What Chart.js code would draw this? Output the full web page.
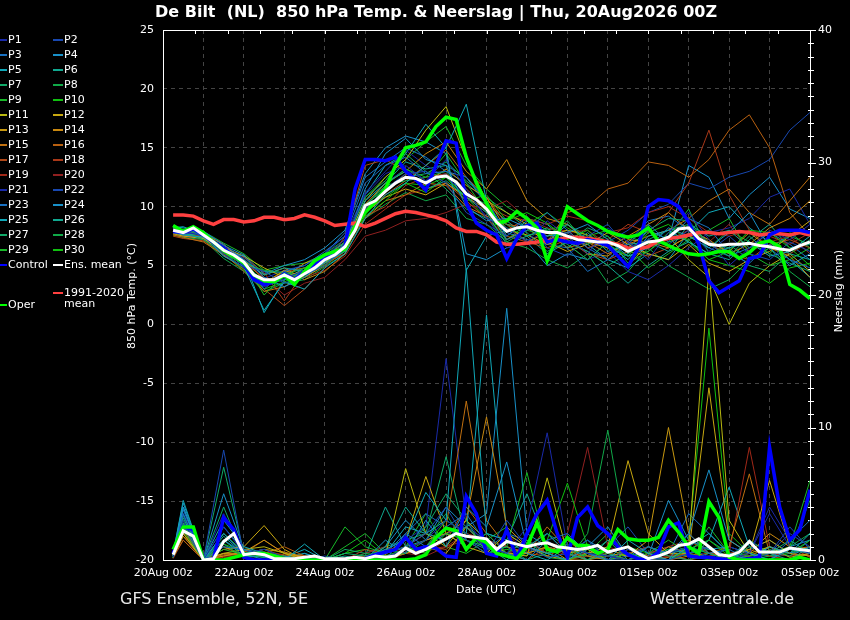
<!DOCTYPE html>
<html lang="nl">
<head>
<meta charset="UTF-8">
<title>De Bilt | 850 hPa Temp. &amp; Neerslag</title>
<script src="https://cdn.jsdelivr.net/npm/chart.js"></script>
<style>
  body { margin: 0; background: #000; overflow: hidden; }
  #wrap { position: relative; width: 850px; height: 620px; background: #000; color: #fff; font-family: "DejaVu Sans", sans-serif; }
  #grafiek { position: absolute; left: 0; top: 0; }
  .txt { position: absolute; white-space: nowrap; line-height: 1; color: #fff; font-weight: normal; }
  .mid { transform: translate(-50%, -50%); }
  .leg { position: absolute; font-size: 11px; line-height: 1; white-space: nowrap; }
  .leg i { position: absolute; height: 2px; }
</style>
</head>
<body>
<div id="wrap">
  <canvas id="grafiek" width="850" height="620"></canvas>
  <div class="txt mid" style="left:436px;top:12px;font-size:16px;font-weight:bold">De Bilt&nbsp; (NL)&nbsp; 850 hPa Temp. &amp; Neerslag | Thu, 20Aug2026 00Z</div>
  <div class="txt mid" style="left:486px;top:589px;font-size:11px">Date (UTC)</div>
  <div class="txt" style="left:120px;top:591px;font-size:16px;color:#e8e8e8">GFS Ensemble, 52N, 5E</div>
  <div class="txt" style="left:650px;top:591px;font-size:16px;color:#e8e8e8">Wetterzentrale.de</div>
  <div id="legenda"></div>
</div>

<script>
// tijdas: uren na 20Aug 00z
const dateLabels = ['20Aug 00z', '22Aug 00z', '24Aug 00z', '26Aug 00z', '28Aug 00z', '30Aug 00z', '01Sep 00z', '03Sep 00z', '05Sep 00z'];
const hours6 = Array.from({ length: 64 }, (_, i) => 6 * (i + 1));
const hours12 = [6].concat(Array.from({ length: 32 }, (_, i) => 12 * (i + 1)));
const asTitelT = '850 hPa Temp. (°C)';
const asTitelP = 'Neerslag (mm)';

// hoofdlijnen, 6-uurlijks
const meanTemp = [
  8.0, 7.8, 8.2, 7.6, 7.0, 6.3, 5.9, 5.3,
  4.2, 3.8, 3.8, 4.2, 3.8, 4.3, 4.8, 5.5,
  5.9, 6.6, 8.0, 10.1, 10.5, 11.3, 12.0, 12.5,
  12.4, 12.0, 12.5, 12.6, 12.1, 11.1, 10.6, 9.8,
  8.7, 7.9, 8.2, 8.3, 8.0, 7.8, 7.8, 7.5,
  7.2, 7.1, 7.0, 7.0, 6.7, 6.2, 6.6, 7.0,
  7.1, 7.4, 8.1, 8.2, 7.3, 6.8, 6.7, 6.8,
  6.8, 6.9, 6.7, 6.6, 6.4, 6.3, 6.7, 7.0];
const controlTemp = [
  7.9, 7.8, 8.1, 7.6, 7.0, 6.5, 5.8, 5.1,
  3.8, 3.4, 3.6, 4.3, 3.8, 4.5, 5.0, 5.6,
  5.9, 6.6, 11.5, 14.0, 14.0, 13.9, 14.2, 13.0,
  12.3, 11.4, 13.5, 15.6, 15.4, 10.3, 8.6, 8.0,
  7.6, 5.6, 7.3, 8.4, 8.6, 7.0, 7.2, 7.0,
  6.9, 7.2, 7.0, 6.7, 5.8, 4.9, 6.5, 10.0,
  10.6, 10.5, 10.0, 8.7, 6.8, 3.7, 2.7, 3.2,
  3.7, 5.6, 5.8, 7.6, 8.0, 8.0, 8.0, 7.8];
const operTemp = [
  8.4, 7.9, 8.3, 7.8, 7.0, 6.3, 5.8, 5.2,
  4.2, 3.7, 3.6, 4.2, 3.4, 4.5, 5.4, 5.9,
  6.2, 6.4, 8.3, 9.5, 10.4, 11.5, 13.5, 15.0,
  15.2, 15.5, 16.8, 17.6, 17.4, 14.2, 12.0, 10.3,
  8.6, 8.8, 9.6, 9.0, 8.2, 5.4, 7.5, 10.0,
  9.4, 8.8, 8.4, 7.9, 7.6, 7.4, 7.6, 8.2,
  7.1, 6.7, 6.3, 6.0, 5.9, 6.0, 6.2, 6.2,
  5.6, 6.1, 6.9, 7.1, 6.6, 3.4, 2.9, 2.2];
const climTemp = [
  9.3, 9.3, 9.2, 8.8, 8.5, 8.9, 8.9, 8.7,
  8.8, 9.1, 9.1, 8.9, 9.0, 9.3, 9.1, 8.8,
  8.4, 8.5, 8.6, 8.3, 8.6, 9.0, 9.4, 9.6,
  9.5, 9.3, 9.1, 8.8, 8.2, 7.9, 7.9, 7.6,
  7.0, 6.8, 6.8, 6.9, 7.0, 7.1, 7.2, 7.4,
  7.4, 7.3, 7.2, 7.0, 6.8, 6.5, 6.4, 6.6,
  7.1, 7.3, 7.4, 7.6, 7.8, 7.8, 7.7, 7.8,
  7.9, 7.8, 7.6, 7.7, 7.7, 7.6, 7.8, 7.6];
const meanPrecip = [
  0.4, 2.2, 1.8, 0.0, 0.1, 1.4, 2.0, 0.4,
  0.5, 0.4, 0.1, 0.1, 0.1, 0.2, 0.3, 0.1,
  0.1, 0.1, 0.2, 0.1, 0.3, 0.2, 0.3, 0.9,
  0.5, 0.8, 1.2, 1.6, 2.0, 1.8, 1.7, 1.6,
  0.8, 1.4, 1.2, 1.0, 1.2, 1.3, 1.0, 0.9,
  0.8, 0.9, 1.1, 0.6, 0.8, 1.0, 0.5, 0.1,
  0.3, 0.6, 1.1, 1.2, 1.6, 1.0, 0.4, 0.3,
  0.6, 1.4, 0.6, 0.6, 0.6, 0.9, 0.8, 0.7];
const controlPrecip = [
  0.5, 2.5, 2.3, 0.0, 0.1, 3.2, 2.3, 0.2,
  0, 0, 0, 0, 0, 0, 0, 0,
  0, 0, 0, 0.1, 0.4, 0.6, 0.8, 1.7,
  0.8, 1.0, 0.9, 0.3, 0.2, 4.8, 3.5, 0.5,
  0.3, 2.3, 0.1, 2.0, 3.5, 4.5, 2.0, 0.2,
  3.2, 4.0, 2.6, 2.0, 1.0, 0.4, 0.1, 0.0,
  0.6, 2.5, 2.8, 0.3, 0.2, 0.2, 0.1, 0.0,
  0.0, 0.1, 0.2, 8.5, 4.0, 1.5, 2.3, 5.3];
const operPrecip = [
  0.8, 2.5, 2.5, 0.0, 0.0, 0.0, 0.2, 0.4,
  0.5, 0.5, 0.3, 0.1, 0, 0, 0, 0,
  0, 0, 0, 0, 0, 0, 0, 0,
  0.1, 0.4, 1.7, 2.4, 2.2, 0.8, 1.7, 1.3,
  0.5, 0.3, 0.1, 1.0, 2.8, 0.8, 0.6, 1.7,
  1.1, 1.1, 0.5, 0.8, 2.3, 1.6, 1.5, 1.5,
  1.7, 3.0, 2.1, 1.0, 0.5, 4.4, 3.2, 0.2,
  0, 0, 0, 0, 0, 0, 0.2, 0.0];

// leden P1..P30, 12-uurlijks (eerste punt +6u)
const memberTemp = [
  [8.1,7.9,7.5,6.0,4.8,3.2,3.9,4.6,5.8,7.2,11.0,12.8,13.5,12.2,14.0,11.5,9.0,8.2,7.0,8.8,7.5,6.0,8.2,7.0,5.5,7.8,9.5,7.2,5.0,6.5,8.0,7.2,8.5],
  [7.9,7.7,7.8,6.5,5.0,4.5,3.5,4.2,5.0,6.5,9.8,11.5,12.8,13.0,12.0,9.5,8.5,7.5,9.2,6.5,5.8,7.5,8.5,6.5,7.2,6.8,8.0,6.2,7.5,6.0,5.5,7.0,6.2],
  [8.3,8.0,7.9,6.8,5.5,3.0,4.5,5.0,6.2,7.5,12.0,13.5,14.2,12.8,13.0,12.5,10.5,7.2,8.0,9.5,8.0,6.5,5.5,6.8,8.5,7.0,9.0,8.2,6.0,5.2,6.8,5.5,4.8],
  [8.0,7.6,7.4,6.2,5.8,4.0,3.2,4.0,5.3,6.8,11.5,14.5,15.8,14.0,13.5,10.0,8.8,9.0,8.2,7.5,7.8,8.5,7.2,5.8,6.5,8.2,7.5,6.5,7.8,9.5,6.5,5.0,6.0],
  [8.2,8.3,7.6,5.8,4.9,1.2,3.6,3.0,4.8,6.0,9.0,11.0,12.0,13.5,15.0,18.7,10.5,7.5,8.8,7.0,8.5,7.2,6.8,5.5,7.5,8.0,7.0,6.0,6.5,7.0,5.8,6.2,7.5],
  [7.8,7.6,7.7,6.5,5.5,4.2,4.8,4.5,5.2,6.2,10.5,12.0,13.0,11.5,12.2,10.8,9.5,6.8,7.5,8.2,6.5,7.8,6.2,6.8,7.0,6.2,8.5,7.5,8.0,6.5,7.2,6.0,5.5],
  [8.4,8.0,7.5,6.6,5.0,3.5,4.0,4.3,5.8,7.0,10.8,12.2,14.5,13.0,11.5,9.8,9.0,8.5,7.8,6.2,7.0,6.2,5.0,6.0,8.0,9.0,8.8,6.8,5.8,7.5,6.0,5.2,4.5],
  [8.0,7.8,7.2,6.0,5.2,4.6,4.4,4.1,5.5,6.8,9.5,11.8,12.2,12.5,13.0,11.0,10.2,7.0,8.0,7.5,8.8,6.8,7.5,5.2,6.2,7.5,9.8,6.0,6.8,5.5,6.5,7.5,6.8],
  [8.3,7.7,7.4,6.4,5.3,2.5,4.2,4.8,5.5,6.2,10.0,11.8,13.2,12.5,14.5,12.0,9.5,8.2,7.5,8.0,6.8,5.5,7.0,6.5,4.8,6.0,7.2,8.0,9.0,6.0,5.0,5.5,6.5],
  [7.9,8.1,7.6,6.1,4.6,3.0,3.6,4.5,5.0,6.4,9.2,10.5,12.0,11.2,12.5,10.5,11.0,8.8,9.5,8.6,7.2,8.0,6.5,5.8,7.8,8.5,7.0,5.5,6.2,8.0,7.8,6.5,5.0],
  [8.1,7.9,7.8,6.5,5.8,4.8,4.0,4.6,5.2,6.8,10.5,12.5,14.0,16.5,18.5,14.0,10.5,9.5,8.5,7.5,8.0,7.6,6.5,5.0,6.8,7.5,5.5,4.0,0.0,3.5,5.0,6.0,4.5],
  [7.7,7.5,7.3,6.2,5.0,3.5,4.6,4.0,5.0,6.5,9.5,10.8,11.5,11.0,12.0,10.8,9.8,7.2,8.2,7.0,6.2,6.8,7.8,6.8,6.0,5.5,6.8,5.2,4.5,5.5,6.2,7.5,8.8],
  [7.8,7.6,7.4,6.0,5.5,3.8,4.0,5.2,5.8,7.0,9.8,11.2,12.8,12.0,13.2,11.8,10.8,8.0,7.6,6.8,7.5,6.0,5.8,7.2,7.0,6.5,7.5,7.0,6.2,7.8,6.5,5.8,4.0],
  [8.2,8.0,7.7,6.8,5.4,4.2,4.8,3.8,4.5,6.0,10.2,12.0,13.0,14.5,15.5,13.0,11.5,14.0,10.5,9.0,8.5,7.0,6.5,7.5,8.5,9.5,8.0,7.2,6.0,6.8,8.2,9.0,10.5],
  [7.6,7.4,7.0,5.9,4.7,2.8,3.2,4.2,5.5,6.8,9.0,10.5,11.0,12.0,11.8,10.0,9.2,8.5,7.0,7.8,6.5,7.0,6.0,6.8,7.5,8.0,9.0,10.5,11.5,9.5,8.5,10.5,12.5],
  [8.0,7.8,7.5,6.3,5.0,3.5,4.5,4.8,5.0,6.2,9.5,11.0,12.2,13.5,14.8,12.5,10.8,8.5,8.2,7.0,9.5,10.0,11.5,12.0,13.8,13.5,12.5,14.0,16.5,17.8,15.0,9.5,7.5],
  [7.5,7.3,7.1,6.0,4.5,3.0,1.6,3.0,4.8,7.5,13.5,14.0,13.0,11.5,12.0,10.5,9.0,7.5,7.0,6.5,7.2,6.0,5.5,6.2,5.8,6.5,7.5,6.8,6.0,5.5,6.8,7.2,6.5],
  [7.7,7.5,7.4,6.6,5.7,4.4,2.0,4.5,5.2,6.0,9.2,10.0,11.8,12.5,12.8,11.5,10.0,9.2,8.8,7.8,8.0,6.5,7.2,8.5,7.8,9.5,12.0,16.5,11.0,8.0,6.5,6.0,7.0],
  [7.9,7.7,7.6,6.4,5.0,3.3,4.2,4.0,4.6,5.8,8.5,9.8,11.0,11.5,12.0,10.8,9.5,8.0,9.0,8.5,9.2,8.8,7.8,8.2,9.5,10.0,9.0,7.8,7.5,8.0,7.5,6.8,7.8],
  [8.0,7.8,7.4,6.2,5.2,4.0,2.5,3.5,4.0,5.5,7.5,8.0,8.8,9.0,9.5,10.2,9.8,10.5,9.0,8.2,7.8,8.0,6.8,7.0,6.5,7.2,8.0,7.0,8.5,6.2,7.0,7.5,6.0],
  [8.2,8.0,7.8,6.5,5.6,3.9,4.6,5.0,6.0,7.5,11.2,13.0,14.8,13.5,12.5,11.0,9.2,6.5,7.0,8.0,6.8,5.5,6.2,4.5,3.8,5.0,6.5,7.8,8.2,9.0,10.8,11.5,8.5],
  [8.1,7.9,7.6,6.2,5.0,3.6,4.3,4.8,5.6,6.8,10.5,12.0,13.2,12.2,12.8,11.2,9.8,8.0,8.5,7.2,7.8,6.5,7.0,8.0,9.5,10.2,12.0,11.5,12.5,13.0,14.0,16.5,18.0],
  [7.8,7.5,7.3,5.8,4.9,3.4,3.8,4.6,6.0,7.8,12.5,13.8,15.0,14.2,13.0,12.0,10.5,7.8,7.2,6.8,6.5,4.5,5.5,7.0,8.8,9.2,8.0,6.5,5.8,6.5,7.8,6.8,5.5],
  [8.3,8.2,7.9,6.7,5.9,4.3,5.0,5.5,6.5,8.0,12.8,15.0,16.0,15.5,14.5,6.0,5.5,6.5,7.0,5.0,6.0,5.5,7.0,6.5,8.0,7.2,13.5,12.5,9.0,11.0,12.5,9.8,9.0],
  [8.0,7.8,7.7,6.6,5.5,1.0,3.8,4.8,5.8,6.9,11.0,13.5,14.5,17.0,15.0,4.6,7.5,8.0,9.0,8.5,7.0,6.8,5.5,4.8,6.0,5.5,7.8,9.5,10.0,8.2,7.0,5.5,4.0],
  [7.9,7.7,7.5,6.0,5.2,4.5,4.4,4.0,5.2,6.5,10.0,12.0,13.8,13.2,13.5,12.5,10.2,8.8,7.5,6.0,7.0,6.2,5.0,3.5,5.0,6.2,7.0,6.0,5.5,7.2,8.5,6.5,6.8],
  [8.1,7.8,7.6,6.3,5.1,3.7,4.1,4.4,5.4,6.6,10.2,11.5,12.5,12.8,13.8,12.2,10.8,9.5,8.2,7.8,7.0,8.2,7.5,6.0,7.2,8.0,8.5,7.0,6.5,5.0,4.5,6.0,7.2],
  [7.6,7.4,7.2,5.6,4.5,2.8,3.5,3.8,4.9,6.0,9.0,10.2,11.2,10.5,11.0,9.0,8.5,7.0,6.5,5.5,4.8,6.0,3.5,4.5,6.5,5.0,4.0,3.0,3.8,5.5,6.5,4.5,3.2],
  [8.2,8.0,7.9,6.9,6.0,4.6,5.0,5.2,6.0,7.2,10.8,12.5,14.0,15.5,16.8,13.5,11.5,10.0,9.0,8.0,8.5,7.5,8.0,7.5,6.8,7.0,7.5,6.5,8.0,7.0,6.0,7.8,6.5],
  [7.8,7.6,7.3,6.1,4.8,3.3,3.8,4.2,5.0,6.3,9.6,10.8,12.0,11.8,12.5,10.8,9.0,7.2,8.5,9.5,8.2,7.2,6.8,5.8,6.2,7.8,7.2,5.5,5.0,4.5,3.5,4.8,5.2]
];
const memberPrecip = [
  [0.3,3.0,0,2.5,0.5,0.8,0.2,0,0,0,0,0.2,0.8,1.5,3.0,2.0,1.0,0.5,2.5,9.6,1.0,0.5,0.3,0,0,0.5,1.0,0.2,0,0.5,3.5,1.0,0.5],
  [0.2,2.5,0,8.3,0.3,0.5,0,0,0,0,0,0.5,1.0,2.0,4.0,1.5,0.5,3.0,1.0,0.2,0.5,1.5,0,0.8,0.2,0,0.5,1.0,0,0,0.5,2.5,0.8],
  [0.4,3.5,0,1.0,0.8,0.3,0,0.2,0,0,0,0,2.0,1.0,2.5,3.5,1.2,0.5,0,1.5,2.0,0.5,0,0,1.0,0.5,2.0,0.5,0.8,0,0,1.5,3.0],
  [0.3,4.0,0,2.0,0.5,0,0.3,0,0,0,0,1.5,0.5,3.0,1.0,4.0,2.5,7.4,1.0,0.5,0,1.0,2.5,0.3,0,0,2.0,6.8,1.5,0.5,0,0.8,0.5],
  [0.5,4.5,0,3.0,1.0,0.5,0,1.2,0,0,0,0.8,1.5,5.1,3.0,22.0,2.0,1.5,0.5,0,1.0,0.5,0,1.5,0.5,0,1.0,2.0,0.5,0,1.0,0.5,2.0],
  [0.3,3.2,0,1.5,0.3,0.2,0,0,0,0.3,0,1.0,4.0,2.0,1.5,2.5,1.0,0,1.0,2.0,0.5,0,1.5,0.5,0,0.8,0.5,1.0,0.2,1.5,0.5,0,1.0],
  [0.2,2.8,0,7.0,0.5,0.8,0.2,0,0,0.5,0.3,0.5,1.0,2.5,5.0,3.0,0.5,1.0,0,0.5,1.2,0,0.5,0,1.0,0.3,0,0.5,0,1.0,0.5,1.5,0.5],
  [0.3,3.0,0,1.2,0.2,0.3,0,0,0,0,0.5,0.3,0.5,1.5,3.5,1.0,2.0,0.5,1.5,0.2,0,2.0,9.8,1.0,0,0.5,1.0,0.5,0,0,0.8,0.3,1.5],
  [0.2,2.2,0,0.8,0.4,0.5,0.3,0,0,2.5,1.0,0.5,1.0,0.5,2.0,1.5,0.5,1.0,6.6,0.5,0,0.5,0.3,0,0.5,1.5,0.5,0,0,0.3,0.5,1.0,6.0],
  [0.4,3.0,0,2.0,0.6,0.2,0,0,0,0.5,1.5,0.3,0.8,1.0,3.0,2.0,1.0,0.5,0,1.5,5.8,1.0,0,0.5,0.2,0,0.8,1.5,0.3,0,0.5,0.8,0.5],
  [0.2,2.0,0,0.5,0.8,1.0,0.5,0,0,0,0,0.3,6.9,2.0,1.0,3.0,1.5,0.5,0.3,6.2,0.5,0.8,0,0.5,0,0.5,1.0,22.0,3.0,0.5,1.0,0.2,0.5],
  [0.3,2.5,0,0.8,1.0,2.6,0.8,0,0,0,0,0.5,1.5,6.3,2.0,1.0,0.5,2.0,1.0,0.3,0,0.5,1.0,7.5,2.0,0.5,0.5,13.0,1.5,0.5,6.0,1.0,0.5],
  [0.2,1.8,0,0.3,0.6,1.5,0.5,0.2,0,0,0,0.2,0.5,1.0,0.5,2.5,1.0,0.5,0.5,1.0,0,0,0.5,0.3,1.5,10.0,2.0,0.5,0.3,0.8,1.5,0.5,0.3],
  [0.3,2.2,0,0.5,0.5,0.8,0.6,0.2,0,0,0,0,0.8,1.5,2.0,3.0,10.8,2.5,1.0,0.5,1.5,0.3,0,0.5,0,1.0,0.5,1.0,0,0.5,2.0,1.0,0.5],
  [0.2,1.5,0,0.4,0.4,0.5,0.3,0.3,0,0,0,0,0.5,1.0,2.5,12.0,3.0,1.0,0.5,2.5,0.8,0,0.3,0,0.5,0,0.3,0.5,1.0,6.5,0.5,0.8,1.0],
  [0.3,2.0,0,1.0,0.3,0.5,1.0,0.3,0,0,0,0.5,1.0,2.0,1.5,4.0,2.0,0.5,0,1.0,0.5,0,0.8,0.3,0,0.2,0.5,0.2,0,0.3,1.0,0.5,0],
  [0.4,2.3,0,0.3,0.5,1.5,0.5,0.3,0,0,0.3,0,0.5,1.0,0.8,2.0,1.5,1.0,0.5,0.3,1.0,0.5,0,0.8,0.3,0.5,0,0.3,0.5,0.8,0.3,0,0.5],
  [0.2,1.8,0,0.2,0.3,0.6,0.4,0.2,0,0,0.8,0.5,1.0,0.5,1.5,2.5,1.0,0.5,1.5,0.5,0,0.3,0.5,0,0.5,1.0,1.5,0.5,0,0.3,0.5,1.0,0.2],
  [0.3,2.0,0,0.5,0.4,0.8,0.3,0,0,0,0,0.3,0.5,0.8,1.0,1.5,0.5,2.0,0.5,1.0,0.3,0.5,0,0.5,1.0,0.3,0.5,0,0.5,8.5,1.0,0.5,0.3],
  [0.1,1.5,0,0.3,0.3,0.5,0.2,0,0,0,0.5,1.0,0.5,0.3,1.0,2.0,1.5,0.5,1.0,0.5,2.0,8.5,1.0,0.5,0,0.3,0,0.5,0.3,0,0.5,0.3,0.5],
  [0.4,3.5,0,3.5,0.6,0.2,0,0,0,0,0,0.8,1.5,2.5,15.2,3.0,1.0,0.5,1.0,2.0,0.5,1.0,0.3,0,0.5,1.0,0.3,0,1.0,0.5,4.0,1.5,0.5],
  [0.3,2.8,0,2.0,0.4,0.3,0,0,0.3,0,0,0.3,0.8,1.0,2.0,2.5,1.5,1.0,0.5,1.5,0.3,0.5,1.0,2.5,0.5,0,0.5,1.0,0,0.3,0.5,2.0,1.0],
  [0.3,3.8,0,1.5,0.5,0.4,0.2,0,0,0,0,0.5,2.0,3.5,2.5,1.5,0.8,2.0,1.5,0.5,1.0,0.5,0,0.3,1.0,0.5,3.5,2.0,0.5,0,1.0,0.5,0.8],
  [0.5,4.3,0,5.0,0.8,0.5,0,0.5,0,0,0,1.0,3.0,1.5,4.0,2.5,3.5,19.0,2.0,1.0,0.5,1.5,0.5,1.0,0.3,4.5,1.5,0.8,1.0,0.5,0,1.0,1.5],
  [0.4,4.0,0,2.5,0.7,0.6,0.2,0.8,0,0,0,0.5,2.5,2.0,3.0,2.0,18.5,2.0,1.0,0.5,0,0.8,0.3,0.5,1.0,0.5,0.8,1.5,5.5,1.0,0.5,0.3,1.0],
  [0.3,3.4,0,1.8,0.4,0.3,0.2,0.5,0,0,0.3,4.0,1.0,1.5,2.0,1.0,2.0,1.5,5.0,1.0,0.5,0,0.8,0.3,0,0.5,1.0,0.5,0,0.8,1.5,0.5,1.0],
  [0.2,3.0,0,4.0,0.3,0.4,0,0,0,0.8,0.5,1.0,1.5,2.0,7.8,1.5,1.0,0.5,1.5,0.5,0.8,0.3,1.5,0,0.5,0.3,0,1.5,0.5,0,0.3,0.8,4.5],
  [0.3,2.6,0,1.5,0.5,0.2,0,0,0,0,0.3,0.8,0.5,1.0,2.5,2.0,0.8,1.0,0.3,2.0,1.0,0.5,0,0.8,0.3,0,0.5,0.8,0.3,0.5,0,1.0,2.0],
  [0.2,2.4,0,1.0,0.4,0.3,0.2,0,0,1.0,2.0,0.5,1.0,3.5,1.0,0.5,1.5,2.5,1.0,0.3,1.5,0.5,2.0,0.5,0,0.5,0.3,2.5,0.5,0.3,1.0,0.5,1.5],
  [0.3,2.7,0,1.2,0.6,0.4,0.2,0,0,0.5,0.8,0.3,0.5,1.0,2.0,1.5,0.5,0.8,0.5,1.0,0.5,0.3,0,1.0,0.5,0.8,1.5,17.5,2.0,0.5,0.3,0.5,1.0]
];

const memberColors = ['#1a2aa8', '#1848b0', '#1870c0', '#1890c8', '#10a8b8', '#10a890', '#10a868', '#10a848', '#18b828', '#10c010',
  '#b8b810', '#c8a810', '#c89810', '#c88810', '#c07010', '#b86010', '#b04818', '#a83818', '#a02818', '#902020'];
const kleurMean = '#ffffff', kleurControl = '#0000ff', kleurOper = '#00ff00', kleurClim = '#ff4040';

function punten(uren, waarden) {
  return waarden.map((v, i) => ({ x: uren[i], y: v }));
}
function lijn(label, uren, waarden, kleur, dikte, as) {
  return { label: label, data: punten(uren, waarden), yAxisID: as, borderColor: kleur, borderWidth: dikte,
    pointRadius: 0, tension: 0, fill: false };
}

// eerste dataset ligt bovenop
var datasets = [
  lijn('Ens. mean', hours6, meanTemp, kleurMean, 3, 'yT'),
  lijn('Ens. mean', hours6, meanPrecip, kleurMean, 3, 'yP'),
  lijn('Oper', hours6, operTemp, kleurOper, 3.5, 'yT'),
  lijn('Oper', hours6, operPrecip, kleurOper, 3.5, 'yP'),
  lijn('Control', hours6, controlTemp, kleurControl, 3.5, 'yT'),
  lijn('Control', hours6, controlPrecip, kleurControl, 3.5, 'yP'),
  lijn('1991-2020 mean', hours6, climTemp, kleurClim, 3.5, 'yT')
];
for (var m = 0; m < memberTemp.length; m++) {
  var k = memberColors[m % 20];
  datasets.push(lijn('P' + (m + 1), hours12, memberTemp[m], k, 1, 'yT'));
  datasets.push(lijn('P' + (m + 1), hours12, memberPrecip[m], k, 1, 'yP'));
}

// kader, minor ticks rechts en bovenaan, astitels
const kader = {
  id: 'kader',
  beforeDatasetsDraw(chart) {
    const { ctx, chartArea: a, scales } = chart;
    ctx.save();
    ctx.strokeStyle = '#ffffff';
    ctx.lineWidth = 1;
    ctx.strokeRect(a.left + 0.5, a.top + 0.5, a.right - a.left, a.bottom - a.top);
    ctx.beginPath();
    for (var v = 0; v <= 40; v++) {
      var y = Math.round(scales.yP.getPixelForValue(v)) + 0.5;
      ctx.moveTo(a.right - 2, y);
      ctx.lineTo(a.right + (v % 10 === 0 ? 6 : 4), y);
    }
    for (var t = 1; t < 20; t++) {
      var x = Math.round(a.left + t * (a.right - a.left) / 20) + 0.5;
      ctx.moveTo(x, a.top);
      ctx.lineTo(x, a.top + 4);
    }
    ctx.stroke();
    ctx.restore();
  },
  afterDraw(chart) {
    const ctx = chart.ctx;
    ctx.save();
    ctx.fillStyle = '#ffffff';
    ctx.font = '11px "DejaVu Sans"';
    ctx.textAlign = 'center';
    ctx.textBaseline = 'middle';
    ctx.translate(132, 296);
    ctx.rotate(-Math.PI / 2);
    ctx.fillText(asTitelT, 0, 0);
    ctx.restore();
    ctx.save();
    ctx.fillStyle = '#ffffff';
    ctx.font = '11px "DejaVu Sans"';
    ctx.textAlign = 'center';
    ctx.textBaseline = 'middle';
    ctx.translate(839, 291);
    ctx.rotate(-Math.PI / 2);
    ctx.fillText(asTitelP, 0, 0);
    ctx.restore();
  }
};

const font = { family: 'DejaVu Sans', size: 11 };
const rooster = { color: '#444444', lineWidth: 1, drawTicks: false };

new Chart(document.getElementById('grafiek').getContext('2d'), {
  type: 'line',
  data: { datasets: datasets },
  options: {
    responsive: false,
    animation: false,
    devicePixelRatio: 1,
    layout: { padding: { top: 30, left: 0, right: 0, bottom: 0 } },
    plugins: { legend: { display: false }, tooltip: { enabled: false } },
    scales: {
      x: {
        type: 'linear', min: 0, max: 384,
        grid: rooster,
        border: { display: false, dash: [4, 4] },
        ticks: { stepSize: 24, color: '#ffffff', font: font, padding: 7, maxRotation: 0, autoSkip: false,
          callback: function (v) { return v % 48 === 0 ? dateLabels[v / 48] : ''; } },
        afterFit: function (s) { s.height = 60; }
      },
      yT: {
        position: 'left', min: -20, max: 25,
        grid: rooster,
        border: { display: false, dash: [4, 4] },
        ticks: { stepSize: 5, color: '#ffffff', font: font, padding: 9 },
        afterFit: function (s) { s.width = 163; }
      },
      yP: {
        position: 'right', min: 0, max: 40,
        grid: { drawOnChartArea: false, drawTicks: false },
        border: { display: false },
        ticks: { stepSize: 10, color: '#ffffff', font: font, padding: 8 },
        afterFit: function (s) { s.width = 40; }
      }
    }
  },
  plugins: [kader]
});

// legenda links
var leg = document.getElementById('legenda');
function legItem(tekst, kleur, col, yMid) {
  var d = document.createElement('div');
  d.className = 'leg';
  var lx = col === 0 ? 0 : 53, lw = col === 0 ? 7 : 10;
  d.style.left = (lx + lw + 1) + 'px';
  d.style.top = (yMid - 6) + 'px';
  d.innerHTML = tekst;
  var s = document.createElement('i');
  s.style.background = kleur;
  s.style.left = (-lw - 1) + 'px';
  s.style.width = lw + 'px';
  s.style.top = '5px';
  d.appendChild(s);
  leg.appendChild(d);
}
for (var p = 0; p < 30; p++) {
  legItem('P' + (p + 1), memberColors[p % 20], p % 2, 40 + 15 * Math.floor(p / 2));
}
legItem('Control', kleurControl, 0, 265);
legItem('Ens. mean', kleurMean, 1, 265);
legItem('1991-2020<br>mean', kleurClim, 1, 293);
legItem('Oper', kleurOper, 0, 305);
</script>
</body>
</html>
